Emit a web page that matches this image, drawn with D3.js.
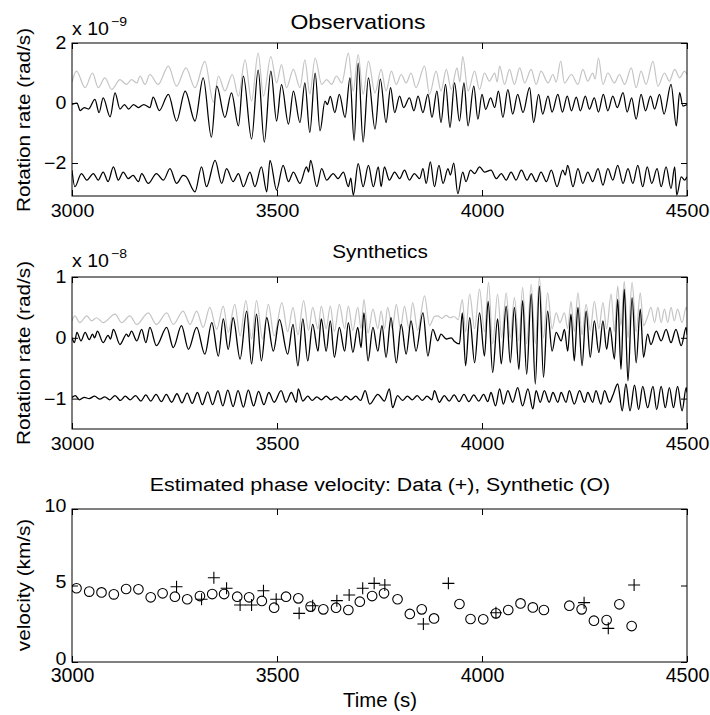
<!DOCTYPE html>
<html>
<head>
<meta charset="utf-8">
<script src="https://cdn.jsdelivr.net/npm/d3@7"></script>
<style>
  body { margin: 0; background: #fff; }
  text { font-family: "Liberation Sans", Arial, Helvetica, sans-serif; fill: #000; }
</style>
</head>
<body>
<div id="chart"></div>
<script>
// ---- data (rotation rate in units of the axis multiplier, time in s) ----
var timeTicks = [3000, 3500, 4000, 4500];

// Observations, x 1e-9 rad/s
var obsGray = [[3000,0.7],[3011,1.06],[3032,0.51],[3050,1.0],[3064,0.51],[3080,0.84],[3097,0.45],[3117,0.78],[3133,0.62],[3145,0.78],[3158,0.67],[3166,0.9],[3178,0.62],[3190,0.95],[3210,0.62],[3235,1.23],[3255,0.56],[3278,1.17],[3300,0.51],[3324,1.39],[3345,0.02],[3357,0.9],[3373,0.4],[3391,0.95],[3406,0.23],[3422,1.44],[3438,0.07],[3454,1.66],[3467,0.23],[3485,1.55],[3499,0.67],[3511,1.28],[3523,0.51],[3540,1.12],[3556,0.51],[3568,1.44],[3580,0.3],[3593,1.5],[3609,0.62],[3621,0.78],[3633,0.62],[3645,0.9],[3658,0.67],[3674,1.66],[3686,0.4],[3698,1.61],[3710,0.29],[3723,1.39],[3739,0.34],[3754,1.12],[3766,0.4],[3779,1.06],[3791,0.62],[3803,0.95],[3815,0.67],[3827,1.0],[3839,0.51],[3860,1.23],[3872,0.29],[3888,1.06],[3900,0.4],[3913,1.12],[3925,0.45],[3939,1.17],[3946,0.7],[3953,1.55],[3966,0.4],[3982,1.06],[3994,0.45],[4006,1.0],[4018,0.73],[4031,1.0],[4037,0.7],[4043,1.23],[4055,0.62],[4067,1.12],[4079,0.62],[4092,1.17],[4104,0.67],[4120,1.12],[4132,0.62],[4144,1.06],[4161,0.67],[4173,0.95],[4181,0.7],[4192,1.4],[4201,0.67],[4218,0.95],[4234,0.62],[4246,1.12],[4258,0.73],[4270,1.0],[4276,0.8],[4284,1.5],[4295,0.62],[4307,1.0],[4323,0.67],[4335,0.95],[4348,0.62],[4364,1.17],[4376,0.51],[4388,1.06],[4400,0.62],[4417,1.39],[4429,0.56],[4445,1.0],[4457,0.73],[4470,1.12],[4482,0.84],[4494,1.06],[4500,0.95]];

var obsBlack = [[3000,-0.05],[3012,0.0],[3020,-0.25],[3030,-0.15],[3040,-0.2],[3056,0.12],[3066,-0.32],[3076,0.17],[3093,-0.46],[3105,0.34],[3117,-0.2],[3128,-0.05],[3138,-0.2],[3150,-0.05],[3162,-0.15],[3175,-0.05],[3190,-0.15],[3198,0.2],[3213,-0.25],[3235,0.29],[3255,-0.6],[3276,0.4],[3300,-0.6],[3320,0.84],[3340,-1.14],[3353,0.56],[3373,-0.48],[3389,0.34],[3406,-0.76],[3418,0.9],[3438,-1.2],[3454,1.1],[3469,-1.3],[3485,1.06],[3499,-0.6],[3511,0.61],[3528,-0.7],[3540,0.4],[3556,-0.65],[3568,0.67],[3580,-0.98],[3593,1.0],[3605,-0.93],[3617,0.06],[3623,-0.05],[3630,0.22],[3641,-0.32],[3652,0.29],[3666,-0.48],[3678,0.84],[3688,-1.25],[3698,1.33],[3710,-1.3],[3723,0.84],[3739,-0.87],[3752,0.8],[3766,-0.65],[3777,0.51],[3787,-0.32],[3799,0.23],[3809,-0.15],[3823,0.17],[3834,-0.26],[3844,0.23],[3856,-0.32],[3868,0.29],[3878,-0.48],[3890,0.4],[3900,-0.65],[3911,0.62],[3922,-0.81],[3933,0.67],[3945,-0.6],[3956,0.67],[3966,-0.76],[3980,0.56],[3990,-0.54],[4000,0.29],[4009,-0.21],[4021,0.17],[4031,-0.15],[4040,0.4],[4051,-0.48],[4063,0.45],[4075,-0.37],[4087,0.29],[4100,-0.32],[4116,0.51],[4126,-0.65],[4138,0.29],[4148,-0.37],[4161,0.23],[4171,-0.3],[4185,0.29],[4196,-0.3],[4208,0.23],[4218,-0.26],[4230,0.2],[4240,-0.26],[4252,0.23],[4262,-0.2],[4274,0.17],[4284,-0.3],[4296,0.29],[4307,-0.26],[4319,0.23],[4330,-0.15],[4344,0.35],[4354,-0.3],[4365,0.17],[4376,-0.54],[4388,0.29],[4399,-0.26],[4411,0.23],[4421,-0.2],[4433,0.29],[4444,-0.37],[4461,0.62],[4474,-0.76],[4482,0.35],[4490,-0.1],[4500,-0.05]];

var obsLower = [[3000,-2.24],[3007,-2.79],[3023,-2.35],[3036,-2.57],[3052,-2.35],[3064,-2.57],[3076,-2.3],[3088,-2.62],[3101,-2.13],[3113,-2.57],[3125,-2.3],[3137,-2.52],[3149,-2.41],[3162,-2.62],[3170,-2.35],[3186,-2.68],[3206,-2.35],[3223,-2.57],[3239,-2.19],[3255,-2.68],[3271,-2.41],[3278,-2.45],[3300,-2.96],[3316,-2.13],[3328,-2.79],[3349,-1.91],[3365,-2.68],[3377,-2.19],[3393,-2.62],[3406,-2.35],[3418,-2.79],[3434,-2.3],[3446,-2.79],[3462,-2.13],[3475,-2.96],[3483,-1.91],[3499,-2.9],[3515,-2.08],[3528,-2.62],[3540,-2.3],[3556,-2.68],[3572,-2.13],[3577,-2.3],[3582,-1.91],[3597,-2.79],[3609,-2.19],[3621,-2.57],[3637,-2.35],[3649,-2.52],[3662,-2.3],[3674,-2.79],[3680,-2.5],[3686,-3.07],[3698,-2.02],[3710,-2.79],[3723,-2.08],[3735,-2.79],[3747,-2.13],[3754,-2.79],[3762,-2.13],[3774,-2.57],[3787,-2.3],[3799,-2.52],[3811,-2.24],[3823,-2.57],[3835,-2.35],[3848,-2.52],[3856,-2.19],[3864,-2.68],[3874,-1.96],[3884,-2.79],[3895,-2.08],[3905,-2.68],[3917,-2.19],[3923,-2.4],[3931,-2.0],[3941,-3.02],[3953,-2.3],[3961,-2.62],[3972,-2.24],[3982,-2.35],[3994,-2.13],[4006,-2.3],[4022,-2.24],[4035,-2.52],[4047,-2.35],[4059,-2.57],[4071,-2.3],[4083,-2.57],[4096,-2.24],[4110,-2.57],[4120,-2.35],[4132,-2.62],[4144,-2.3],[4157,-2.62],[4169,-2.24],[4183,-2.79],[4197,-2.24],[4203,-2.4],[4209,-2.08],[4222,-2.79],[4234,-2.19],[4246,-2.68],[4258,-2.3],[4270,-2.62],[4283,-2.19],[4295,-2.74],[4307,-2.19],[4319,-2.57],[4331,-2.08],[4344,-2.68],[4356,-2.19],[4368,-2.68],[4380,-2.08],[4392,-2.79],[4403,-2.13],[4414,-2.68],[4427,-2.19],[4437,-2.79],[4449,-2.13],[4461,-2.85],[4470,-2.13],[4475,-3.07],[4486,-2.46],[4494,-2.57],[4500,-2.46]];

// Synthetics, x 1e-8 rad/s
var synGray = [[3000,0.28],[3007,0.36],[3019,0.25],[3036,0.36],[3048,0.28],[3060,0.33],[3076,0.25],[3105,0.39],[3121,0.25],[3141,0.36],[3158,0.22],[3186,0.41],[3206,0.22],[3231,0.41],[3247,0.22],[3271,0.44],[3288,0.22],[3304,0.44],[3320,0.17],[3336,0.5],[3353,0.14],[3369,0.52],[3381,0.09],[3397,0.55],[3410,0.03],[3424,0.61],[3438,-0.02],[3450,0.61],[3465,-0.02],[3479,0.55],[3493,0.03],[3512,0.58],[3526,0.1],[3539,0.5],[3551,0.05],[3565,0.61],[3577,0.12],[3587,0.5],[3600,0.15],[3608,0.52],[3620,0.15],[3630,0.52],[3640,0.1],[3652,0.55],[3665,0.15],[3674,0.52],[3685,0.12],[3697,0.5],[3705,0.15],[3712,0.63],[3722,0.08],[3734,0.47],[3746,0.15],[3754,0.44],[3762,0.15],[3770,0.5],[3781,0.15],[3791,0.55],[3801,0.15],[3811,0.52],[3822,0.15],[3831,0.58],[3843,0.12],[3860,0.69],[3872,0.2],[3884,0.35],[3892,0.36],[3902,0.32],[3912,0.37],[3922,0.33],[3932,0.35],[3942,0.3],[3952,0.63],[3960,0.1],[3970,0.72],[3982,0.15],[3994,0.8],[4006,0.1],[4016,0.91],[4026,-0.1],[4038,0.72],[4048,0.0],[4059,0.74],[4069,0.0],[4079,0.66],[4090,-0.05],[4099,0.83],[4109,-0.1],[4120,0.88],[4130,-0.1],[4140,0.99],[4150,0.0],[4160,0.74],[4171,0.15],[4181,0.41],[4190,0.25],[4201,0.41],[4209,0.15],[4217,0.6],[4225,0.1],[4234,0.74],[4244,0.05],[4254,0.55],[4264,0.12],[4274,0.6],[4285,0.15],[4295,0.58],[4304,0.15],[4315,0.72],[4323,0.1],[4331,0.85],[4339,0.2],[4347,0.93],[4356,0.0],[4366,0.91],[4376,0.1],[4386,0.74],[4394,0.2],[4404,0.35],[4412,0.5],[4421,0.25],[4429,0.5],[4437,0.25],[4445,0.47],[4453,0.25],[4461,0.5],[4469,0.28],[4477,0.47],[4488,0.25],[4498,0.5],[4500,0.45]];

var synBlack = [[3000,0.0],[3006,-0.08],[3012,0.09],[3022,-0.05],[3032,0.09],[3042,-0.03],[3050,0.06],[3055,0.0],[3062,0.11],[3076,-0.08],[3088,0.04],[3094,-0.02],[3101,0.14],[3117,-0.11],[3133,0.06],[3138,0.02],[3145,0.11],[3158,-0.05],[3170,0.14],[3180,-0.08],[3190,0.17],[3206,-0.13],[3231,0.17],[3247,-0.16],[3267,0.2],[3284,-0.19],[3304,0.17],[3324,-0.27],[3341,0.25],[3357,-0.3],[3369,0.31],[3381,-0.19],[3393,0.33],[3410,-0.35],[3426,0.44],[3438,-0.43],[3450,0.39],[3462,-0.38],[3475,0.33],[3491,-0.22],[3506,0.3],[3526,-0.27],[3539,0.22],[3551,-0.46],[3563,0.31],[3575,-0.38],[3587,0.22],[3600,-0.22],[3608,0.31],[3620,-0.22],[3630,0.28],[3640,-0.32],[3652,0.17],[3665,-0.22],[3674,0.25],[3685,-0.24],[3697,0.17],[3705,-0.16],[3712,0.41],[3722,-0.38],[3734,0.17],[3746,-0.22],[3756,0.2],[3766,-0.32],[3778,0.33],[3791,-0.41],[3803,0.22],[3815,-0.27],[3827,0.28],[3839,-0.22],[3856,0.41],[3868,-0.3],[3880,0.14],[3892,-0.05],[3900,0.06],[3913,-0.02],[3925,0.0],[3933,-0.06],[3945,-0.1],[3952,0.41],[3960,-0.46],[3970,0.33],[3982,-0.41],[3994,0.41],[4006,-0.3],[4015,0.6],[4026,-0.57],[4038,0.31],[4047,-0.43],[4059,0.52],[4069,-0.41],[4079,0.5],[4090,-0.52],[4099,0.61],[4109,-0.6],[4120,0.72],[4130,-0.76],[4140,0.85],[4150,-0.65],[4160,0.44],[4171,-0.22],[4181,0.09],[4193,-0.05],[4201,0.14],[4209,-0.22],[4217,0.39],[4225,-0.38],[4234,0.5],[4244,-0.46],[4254,0.44],[4264,-0.32],[4274,0.28],[4285,-0.24],[4295,0.28],[4304,-0.19],[4312,0.17],[4323,-0.35],[4331,0.63],[4339,-0.52],[4347,0.8],[4356,-0.71],[4366,0.66],[4376,-0.41],[4386,0.47],[4394,-0.32],[4404,0.06],[4412,-0.11],[4425,0.11],[4437,-0.05],[4449,0.14],[4461,-0.08],[4473,0.14],[4486,-0.13],[4498,0.17],[4500,0.05]];

var synLower = [[3000,-0.98],[3008,-0.95],[3018,-1.02],[3030,-0.98],[3042,-1.0],[3055,-0.96],[3068,-1.01],[3080,-0.97],[3092,-1.02],[3105,-0.95],[3118,-1.03],[3130,-0.96],[3142,-1.02],[3155,-0.95],[3168,-1.04],[3180,-0.94],[3192,-1.04],[3205,-0.93],[3218,-1.05],[3230,-0.93],[3243,-1.06],[3256,-0.92],[3268,-1.07],[3281,-0.91],[3293,-1.08],[3306,-0.9],[3318,-1.1],[3331,-0.89],[3343,-1.1],[3356,-0.87],[3368,-1.12],[3380,-0.86],[3393,-1.13],[3405,-0.87],[3418,-1.14],[3430,-0.86],[3443,-1.12],[3455,-0.88],[3468,-1.1],[3480,-0.9],[3493,-1.06],[3510,-0.87],[3522,-1.06],[3535,-0.9],[3547,-1.06],[3552,-0.84],[3563,-1.04],[3575,-0.96],[3586,-1.03],[3597,-0.97],[3608,-1.02],[3620,-0.96],[3632,-1.02],[3644,-0.97],[3656,-1.03],[3668,-0.96],[3680,-1.02],[3692,-0.96],[3704,-1.03],[3715,-0.87],[3726,-1.09],[3746,-0.93],[3762,-1.04],[3774,-0.84],[3782,-1.15],[3794,-0.95],[3806,-1.03],[3818,-0.96],[3830,-1.02],[3842,-0.95],[3854,-1.03],[3866,-0.96],[3878,-1.02],[3884,-0.87],[3896,-1.06],[3908,-0.95],[3920,-1.04],[3932,-0.94],[3944,-1.05],[3956,-0.93],[3968,-1.05],[3980,-0.94],[3992,-1.04],[4004,-0.93],[4014,-1.05],[4022,-0.9],[4033,-1.12],[4043,-0.84],[4052,-1.09],[4063,-0.87],[4075,-1.06],[4087,-0.82],[4099,-1.12],[4112,-0.84],[4124,-1.17],[4132,-0.87],[4142,-1.06],[4152,-0.87],[4164,-1.06],[4173,-0.9],[4185,-1.06],[4193,-0.9],[4205,-1.06],[4213,-0.87],[4225,-1.09],[4238,-0.87],[4250,-1.06],[4258,-0.9],[4270,-1.06],[4278,-0.87],[4290,-1.09],[4299,-0.87],[4311,-1.06],[4319,-0.95],[4331,-0.76],[4342,-1.2],[4351,-0.76],[4361,-1.2],[4372,-0.78],[4382,-1.18],[4392,-0.8],[4404,-1.15],[4417,-0.8],[4426,-1.18],[4437,-0.8],[4447,-1.15],[4457,-0.82],[4467,-1.15],[4477,-0.8],[4488,-1.2],[4498,-0.82],[4500,-0.9]];

// Estimated phase velocity (km/s)
var synVelTime = [3011,3042,3072,3102,3132,3162,3192,3221,3251,3281,3312,3342,3371,3403,3432,3463,3493,3522,3552,3582,3613,3644,3674,3702,3732,3761,3794,3824,3853,3883,3945,3972,4003,4034,4064,4094,4124,4151,4213,4243,4273,4304,4335,4365];
var synVel     = [4.82,4.6,4.55,4.42,4.77,4.75,4.23,4.49,4.27,4.1,4.31,4.44,4.44,4.27,4.23,3.99,3.55,4.27,4.16,3.62,3.44,3.55,3.4,3.94,4.31,4.49,4.1,3.14,3.44,2.85,3.79,2.81,2.79,3.18,3.4,3.83,3.57,3.4,3.68,3.44,2.7,2.74,3.77,2.35];
var dataVelTime = [3255,3316,3346,3377,3410,3438,3467,3498,3554,3587,3646,3676,3709,3737,3763,3857,3918,4034,4249,4308,4371];
var dataVel     = [4.92,4.1,5.51,4.82,3.73,3.73,4.66,4.1,3.18,3.68,4.01,4.38,4.82,5.14,5.03,2.48,5.14,3.22,3.88,2.2,5.03];

// ---- drawing ----
var W = 710, H = 715;
var svg = d3.select("#chart").append("svg").attr("width", W).attr("height", H);
var stretch = 1.12; // reference fonts look slightly wide

var x = d3.scaleLinear().domain([3000, 4500]).range([72, 687]);

function txt(px, py, str, size, anchor, rot, sx) {
    return svg.append("text")
        .attr("transform", "translate(" + px + "," + py + ")" + (rot ? " rotate(" + rot + ")" : "") + " scale(" + (sx || stretch) + ",1)")
        .attr("text-anchor", anchor || "middle")
        .style("font-size", size + "px")
        .text(str);
}

function drawPanel(p) {
    var y = d3.scaleLinear().domain(p.yDomain).range([p.bottom, p.top]);
    var g = svg.append("g");

    svg.append("clipPath").attr("id", "clip" + p.id)
        .append("rect").attr("x", 72).attr("y", p.top)
        .attr("width", 615).attr("height", p.bottom - p.top);

    var plot = g.append("g").attr("clip-path", "url(#clip" + p.id + ")");
    var line = d3.line()
        .x(function(d) { return x(d[0]); })
        .y(function(d) { return y(d[1]); })
        .curve(d3.curveMonotoneX);

    (p.lines || []).forEach(function(s) {
        plot.append("path").datum(s.data)
            .attr("d", line)
            .attr("fill", "none")
            .attr("stroke", s.color)
            .attr("stroke-width", s.width)
            .attr("stroke-linejoin", "round");
    });

    if (p.circles) {
        plot.selectAll("circle.syn").data(p.circles).enter().append("circle")
            .attr("class", "syn")
            .attr("cx", function(d) { return x(d[0]); })
            .attr("cy", function(d) { return y(d[1]); })
            .attr("r", 4.8)
            .attr("fill", "none").attr("stroke", "#000").attr("stroke-width", 1.1);
    }
    if (p.crosses) {
        plot.selectAll("path.dat").data(p.crosses).enter().append("path")
            .attr("class", "dat")
            .attr("transform", function(d) { return "translate(" + x(d[0]) + "," + y(d[1]) + ")"; })
            .attr("d", "M-6,0H6M0,-6V6")
            .attr("stroke", "#000").attr("stroke-width", 1.1);
    }

    // inward ticks on all four sides
    var ax = g.append("g").attr("transform", "translate(0," + p.bottom + ")")
        .call(d3.axisBottom(x).tickValues(timeTicks).tickSize(-6).tickPadding(p.xPad).tickFormat(d3.format("d")));
    g.append("g").attr("transform", "translate(0," + p.top + ")")
        .call(d3.axisTop(x).tickValues(timeTicks).tickSize(-6).tickFormat(""));
    var ay = g.append("g").attr("transform", "translate(72,0)")
        .call(d3.axisLeft(y).tickValues(p.yTicks).tickSize(-6).tickPadding(5).tickFormat(d3.format("d")));
    g.append("g").attr("transform", "translate(687,0)")
        .call(d3.axisRight(y).tickValues(p.yTicks).tickSize(-6).tickFormat(""));

    g.selectAll(".domain").remove();
    g.selectAll(".tick line").attr("stroke", "#000");

    ax.selectAll("text")
        .attr("dy", "0.71em")
        .attr("transform", "scale(" + (p.xScale || stretch) + ",1)")
        .style("font-size", p.xFont + "px");
    ay.selectAll("text")
        .attr("transform", "scale(" + stretch + ",1)")
        .attr("dy", p.yDy || "0.32em")
        .style("font-size", "17.5px");

    g.append("rect")
        .attr("x", 72).attr("y", p.top)
        .attr("width", 615).attr("height", p.bottom - p.top)
        .attr("fill", "none").attr("stroke", "#000").attr("stroke-width", 1);

    return y;
}

// Panel 1: observations
drawPanel({
    id: 1, top: 43, bottom: 196, yDomain: [-3.1, 2], yTicks: [-2, 0, 2],
    xPad: 9, xFont: 17.5,
    lines: [
        { data: obsGray,  color: "#c4c4c4", width: 1.2 },
        { data: obsBlack, color: "#000",    width: 1.25 },
        { data: obsLower, color: "#000",    width: 1.25 }
    ]
});
txt(358, 29, "Observations", 20.5);
txt(72, 35, "x 10", 17.5, "start");
txt(111, 26, "\u22129", 12.5, "start");
txt(30, 120, "Rotation rate (rad/s)", 18.5, "middle", -90);

// Panel 2: synthetics
drawPanel({
    id: 2, top: 277, bottom: 429, yDomain: [-1.5, 1], yTicks: [-1, 0, 1],
    xPad: 9, xFont: 17.5,
    lines: [
        { data: synGray,  color: "#c4c4c4", width: 1.2 },
        { data: synBlack, color: "#000",    width: 1.3 },
        { data: synLower, color: "#000",    width: 1.3 }
    ]
});
txt(380, 258, "Synthetics", 18.5);
txt(72, 267, "x 10", 17.5, "start");
txt(111, 258, "\u22128", 12.5, "start");
txt(30, 353, "Rotation rate (rad/s)", 18.5, "middle", -90);

// Panel 3: phase velocity
drawPanel({
    id: 3, top: 509, bottom: 662, yDomain: [0, 10], yTicks: [0, 5, 10],
    xPad: 6, xFont: 20, xScale: 0.98, yDy: "0.12em",
    circles: d3.zip(synVelTime, synVel),
    crosses: d3.zip(dataVelTime, dataVel)
});
txt(380, 491, "Estimated phase velocity: Data (+), Synthetic (O)", 19);
txt(380, 707, "Time (s)", 21, "middle", 0, 0.97);
txt(30, 585, "velocity (km/s)", 18.5, "middle", -90);
</script>
</body>
</html>
